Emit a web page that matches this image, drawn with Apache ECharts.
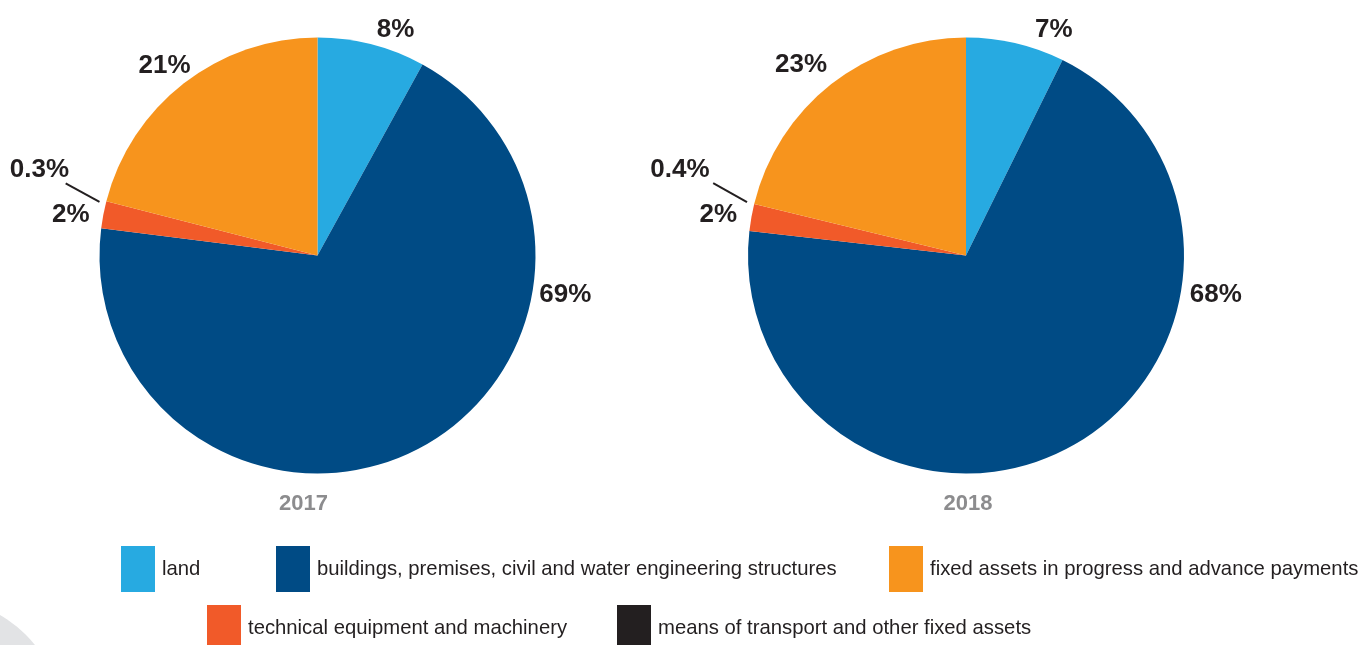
<!DOCTYPE html>
<html>
<head>
<meta charset="utf-8">
<script src="https://cdn.jsdelivr.net/npm/echarts@6/dist/echarts.min.js"></script>
<style>
html,body{margin:0;padding:0;background:#fff;}
#chart{width:1364px;height:645px;}
</style>
</head>
<body>
<div id="chart"></div>
<script>
// ---- data ----
const categories = [
  'land',
  'buildings, premises, civil and water engineering structures',
  'technical equipment and machinery',
  'means of transport and other fixed assets',
  'fixed assets in progress and advance payments'
];
const legendOrder = [0, 1, 4, 2, 3];
const years = ['2017', '2018'];
// slice sizes as drawn in the picture (shares, %)
const slices2017 = [8, 69, 2, 0, 21];
const slices2018 = [7.3, 69.5, 2, 0, 21.2];
// percentage labels as printed in the picture
const labels2017 = ['8%', '69%', '2%', '0.3%', '21%'];
const labels2018 = ['7%', '68%', '2%', '0.4%', '23%'];

// ---- styles ----
const colors = ['#27aae1', '#004b85', '#f15a29', '#231f20', '#f7941d'];
const FONT = "'Liberation Sans', Arial, sans-serif";
const pieCenters = [[317.5, 255.5], [966, 255.5]];
const pieRadius = 218;
// label anchor: [angle deg clockwise from top, distance from centre]
const labelPolar = [
  [[19.1, 238.6], [99.05, 251], [279.3, 250], [287.1, 291], [321.2, 244]],
  [[21.3, 242], [99.0, 253], [279.3, 251], [286.6, 298.5], [319.1, 252]]
];
const leaderPolar = [
  [[283.8, 224.5], [286.0, 262]],
  [[283.7, 225.4], [286.0, 263]]
];
const yearPos = [[303.5, 493], [968, 493]];
const legendPos = [[121, 546], [276, 546], [889, 546], [207, 605], [617, 605]];

function polar(c, a, d) {
  const t = a * Math.PI / 180;
  return [c[0] + d * Math.sin(t), c[1] - d * Math.cos(t)];
}

function makeSeries(si, vals, labels) {
  return {
    type: 'pie',
    center: pieCenters[si],
    radius: pieRadius,
    startAngle: 90,
    clockwise: true,
    animation: false,
    silent: true,
    avoidLabelOverlap: false,
    minAngle: 0,
    stillShowZeroSum: true,
    data: vals.map((v, i) => ({
      name: categories[i],
      value: v,
      itemStyle: { color: colors[i] },
      labelLine: { show: i === 3, lineStyle: { color: '#231f20', width: 2 } }
    })),
    label: {
      show: true,
      position: 'outside',
      formatter: (p) => labels[p.dataIndex],
      fontFamily: FONT,
      fontWeight: 'bold',
      fontSize: 26,
      color: '#231f20'
    },
    labelLine: { show: false, length: 10, length2: 10 },
    labelLayout: function (p) {
      const pos = labelPolar[si][p.dataIndex];
      const xy = polar(pieCenters[si], pos[0], pos[1]);
      const res = { x: xy[0], y: xy[1], align: 'center', verticalAlign: 'middle' };
      if (p.dataIndex === 3) {
        const lp = leaderPolar[si];
        res.labelLinePoints = [
          polar(pieCenters[si], lp[0][0], lp[0][1]),
          polar(pieCenters[si], lp[1][0], lp[1][1]),
          polar(pieCenters[si], lp[1][0], lp[1][1])
        ];
      }
      return res;
    }
  };
}

const chart = echarts.init(document.getElementById('chart'), null, { renderer: 'canvas' });
chart.setOption({
  backgroundColor: '#ffffff',
  animation: false,
  title: years.map((y, i) => ({
    text: y,
    left: yearPos[i][0],
    top: yearPos[i][1],
    textAlign: 'center',
    padding: 0,
    textStyle: { fontFamily: FONT, fontWeight: 'bold', fontSize: 22, color: '#8c8c8e' }
  })),
  legend: legendOrder.map((ci, k) => ({
    data: [categories[ci]],
    left: legendPos[k][0],
    top: legendPos[k][1],
    orient: 'horizontal',
    padding: 0,
    icon: 'rect',
    itemWidth: 34,
    itemHeight: 46,
    itemGap: 0,
    selectedMode: false,
    textStyle: { fontFamily: FONT, fontSize: 20.3, color: '#231f20', padding: [0, 0, 0, 2] }
  })),
  graphic: [{
    type: 'circle',
    shape: { cx: -60, cy: 720, r: 121 },
    style: { fill: '#e2e3e5' },
    z: -10,
    silent: true
  }],
  series: [makeSeries(0, slices2017, labels2017), makeSeries(1, slices2018, labels2018)]
});
</script>
</body>
</html>
